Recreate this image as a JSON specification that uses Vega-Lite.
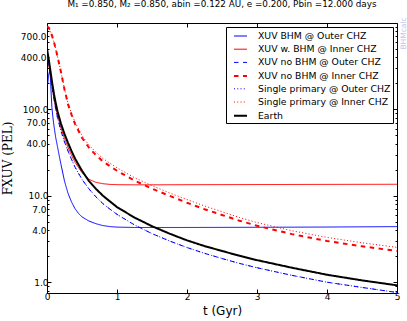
{
  "$schema": "https://vega.github.io/schema/vega-lite/v6.json",
  "width": 350,
  "height": 270,
  "autosize": {"type": "none"},
  "padding": {"left": 47, "top": 23, "right": 10, "bottom": 28},
  "background": "white",
  "config": {
    "view": {"stroke": null},
    "font": "DejaVu Sans",
    "axis": {
      "domainColor": "black",
      "domainWidth": 1,
      "tickColor": "black",
      "labelColor": "black",
      "titleColor": "black",
      "grid": false,
      "labelFont": "DejaVu Sans",
      "labelFontSize": 9,
      "titleFontWeight": "normal",
      "labelOverlap": false,
      "labelFlush": false,
      "labelBound": false
    },
    "legend": {
      "orient": "top-right",
      "offset": 4,
      "padding": 2,
      "fillColor": "white",
      "strokeColor": "black",
      "cornerRadius": 0,
      "symbolType": "stroke",
      "symbolSize": 169,
      "rowPadding": 0.2,
      "labelOffset": 10,
      "symbolOffset": 5,
      "labelFont": "DejaVu Sans",
      "labelFontSize": 9.3,
      "labelColor": "black",
      "labelLimit": 300
    }
  },
  "title": {
    "text": "M₁ =0.850, M₂ =0.850, abin =0.122 AU, e =0.200, Pbin =12.000 days",
    "font": "DejaVu Sans",
    "fontSize": 8.8,
    "fontWeight": "normal",
    "color": "black",
    "anchor": "middle",
    "offset": 8
  },
  "data": {
    "values": [
      {"series": "XUV BHM @ Outer CHZ", "t": 0.01, "f": 195},
      {"series": "XUV BHM @ Outer CHZ", "t": 0.025, "f": 255},
      {"series": "XUV BHM @ Outer CHZ", "t": 0.04, "f": 280},
      {"series": "XUV BHM @ Outer CHZ", "t": 0.05, "f": 230},
      {"series": "XUV BHM @ Outer CHZ", "t": 0.06, "f": 150},
      {"series": "XUV BHM @ Outer CHZ", "t": 0.07, "f": 105},
      {"series": "XUV BHM @ Outer CHZ", "t": 0.085, "f": 80},
      {"series": "XUV BHM @ Outer CHZ", "t": 0.1, "f": 64},
      {"series": "XUV BHM @ Outer CHZ", "t": 0.125, "f": 47},
      {"series": "XUV BHM @ Outer CHZ", "t": 0.15, "f": 37},
      {"series": "XUV BHM @ Outer CHZ", "t": 0.175, "f": 29},
      {"series": "XUV BHM @ Outer CHZ", "t": 0.2, "f": 23},
      {"series": "XUV BHM @ Outer CHZ", "t": 0.25, "f": 14.8},
      {"series": "XUV BHM @ Outer CHZ", "t": 0.3, "f": 10.7},
      {"series": "XUV BHM @ Outer CHZ", "t": 0.35, "f": 8.5},
      {"series": "XUV BHM @ Outer CHZ", "t": 0.4, "f": 7.1},
      {"series": "XUV BHM @ Outer CHZ", "t": 0.45, "f": 6.25},
      {"series": "XUV BHM @ Outer CHZ", "t": 0.5, "f": 5.7},
      {"series": "XUV BHM @ Outer CHZ", "t": 0.6, "f": 5.1},
      {"series": "XUV BHM @ Outer CHZ", "t": 0.7, "f": 4.75},
      {"series": "XUV BHM @ Outer CHZ", "t": 0.8, "f": 4.52},
      {"series": "XUV BHM @ Outer CHZ", "t": 0.9, "f": 4.4},
      {"series": "XUV BHM @ Outer CHZ", "t": 1.0, "f": 4.34},
      {"series": "XUV BHM @ Outer CHZ", "t": 1.25, "f": 4.3},
      {"series": "XUV BHM @ Outer CHZ", "t": 1.5, "f": 4.3},
      {"series": "XUV BHM @ Outer CHZ", "t": 2.0, "f": 4.3},
      {"series": "XUV BHM @ Outer CHZ", "t": 3.0, "f": 4.32},
      {"series": "XUV BHM @ Outer CHZ", "t": 4.0, "f": 4.35},
      {"series": "XUV BHM @ Outer CHZ", "t": 5.0, "f": 4.4},

      {"series": "XUV w. BHM @ Inner CHZ", "t": 0, "f": 430},
      {"series": "XUV w. BHM @ Inner CHZ", "t": 0.025, "f": 330},
      {"series": "XUV w. BHM @ Inner CHZ", "t": 0.05, "f": 245},
      {"series": "XUV w. BHM @ Inner CHZ", "t": 0.075, "f": 180},
      {"series": "XUV w. BHM @ Inner CHZ", "t": 0.1, "f": 135},
      {"series": "XUV w. BHM @ Inner CHZ", "t": 0.125, "f": 106},
      {"series": "XUV w. BHM @ Inner CHZ", "t": 0.15, "f": 86},
      {"series": "XUV w. BHM @ Inner CHZ", "t": 0.2, "f": 61},
      {"series": "XUV w. BHM @ Inner CHZ", "t": 0.25, "f": 46},
      {"series": "XUV w. BHM @ Inner CHZ", "t": 0.3, "f": 36.5},
      {"series": "XUV w. BHM @ Inner CHZ", "t": 0.35, "f": 29.5},
      {"series": "XUV w. BHM @ Inner CHZ", "t": 0.4, "f": 24.5},
      {"series": "XUV w. BHM @ Inner CHZ", "t": 0.5, "f": 18.5},
      {"series": "XUV w. BHM @ Inner CHZ", "t": 0.6, "f": 15.5},
      {"series": "XUV w. BHM @ Inner CHZ", "t": 0.7, "f": 14.3},
      {"series": "XUV w. BHM @ Inner CHZ", "t": 0.8, "f": 13.8},
      {"series": "XUV w. BHM @ Inner CHZ", "t": 0.9, "f": 13.55},
      {"series": "XUV w. BHM @ Inner CHZ", "t": 1.0, "f": 13.45},
      {"series": "XUV w. BHM @ Inner CHZ", "t": 1.25, "f": 13.4},
      {"series": "XUV w. BHM @ Inner CHZ", "t": 1.5, "f": 13.4},
      {"series": "XUV w. BHM @ Inner CHZ", "t": 2.0, "f": 13.45},
      {"series": "XUV w. BHM @ Inner CHZ", "t": 3.0, "f": 13.5},
      {"series": "XUV w. BHM @ Inner CHZ", "t": 4.0, "f": 13.55},
      {"series": "XUV w. BHM @ Inner CHZ", "t": 5.0, "f": 13.6},

      {"series": "XUV no BHM @ Outer CHZ", "t": 0, "f": 460},
      {"series": "XUV no BHM @ Outer CHZ", "t": 0.025, "f": 345},
      {"series": "XUV no BHM @ Outer CHZ", "t": 0.05, "f": 245},
      {"series": "XUV no BHM @ Outer CHZ", "t": 0.075, "f": 175},
      {"series": "XUV no BHM @ Outer CHZ", "t": 0.1, "f": 130},
      {"series": "XUV no BHM @ Outer CHZ", "t": 0.125, "f": 100},
      {"series": "XUV no BHM @ Outer CHZ", "t": 0.15, "f": 80},
      {"series": "XUV no BHM @ Outer CHZ", "t": 0.2, "f": 56},
      {"series": "XUV no BHM @ Outer CHZ", "t": 0.25, "f": 42},
      {"series": "XUV no BHM @ Outer CHZ", "t": 0.3, "f": 33},
      {"series": "XUV no BHM @ Outer CHZ", "t": 0.35, "f": 26.5},
      {"series": "XUV no BHM @ Outer CHZ", "t": 0.4, "f": 21.5},
      {"series": "XUV no BHM @ Outer CHZ", "t": 0.5, "f": 15.5},
      {"series": "XUV no BHM @ Outer CHZ", "t": 0.6, "f": 12},
      {"series": "XUV no BHM @ Outer CHZ", "t": 0.7, "f": 9.7},
      {"series": "XUV no BHM @ Outer CHZ", "t": 0.8, "f": 8.1},
      {"series": "XUV no BHM @ Outer CHZ", "t": 0.9, "f": 7.0},
      {"series": "XUV no BHM @ Outer CHZ", "t": 1.0, "f": 6.1},
      {"series": "XUV no BHM @ Outer CHZ", "t": 1.25, "f": 4.6},
      {"series": "XUV no BHM @ Outer CHZ", "t": 1.5, "f": 3.65},
      {"series": "XUV no BHM @ Outer CHZ", "t": 1.75, "f": 3.0},
      {"series": "XUV no BHM @ Outer CHZ", "t": 2.0, "f": 2.52},
      {"series": "XUV no BHM @ Outer CHZ", "t": 2.25, "f": 2.16},
      {"series": "XUV no BHM @ Outer CHZ", "t": 2.5, "f": 1.88},
      {"series": "XUV no BHM @ Outer CHZ", "t": 2.75, "f": 1.65},
      {"series": "XUV no BHM @ Outer CHZ", "t": 3.0, "f": 1.47},
      {"series": "XUV no BHM @ Outer CHZ", "t": 3.5, "f": 1.2},
      {"series": "XUV no BHM @ Outer CHZ", "t": 4.0, "f": 1.0},
      {"series": "XUV no BHM @ Outer CHZ", "t": 4.5, "f": 0.87},
      {"series": "XUV no BHM @ Outer CHZ", "t": 5.0, "f": 0.76},

      {"series": "XUV no BHM @ Inner CHZ", "t": 0, "f": 920},
      {"series": "XUV no BHM @ Inner CHZ", "t": 0.025, "f": 880},
      {"series": "XUV no BHM @ Inner CHZ", "t": 0.05, "f": 800},
      {"series": "XUV no BHM @ Inner CHZ", "t": 0.075, "f": 700},
      {"series": "XUV no BHM @ Inner CHZ", "t": 0.1, "f": 600},
      {"series": "XUV no BHM @ Inner CHZ", "t": 0.125, "f": 500},
      {"series": "XUV no BHM @ Inner CHZ", "t": 0.15, "f": 410},
      {"series": "XUV no BHM @ Inner CHZ", "t": 0.2, "f": 270},
      {"series": "XUV no BHM @ Inner CHZ", "t": 0.25, "f": 170},
      {"series": "XUV no BHM @ Inner CHZ", "t": 0.3, "f": 115},
      {"series": "XUV no BHM @ Inner CHZ", "t": 0.35, "f": 87},
      {"series": "XUV no BHM @ Inner CHZ", "t": 0.4, "f": 68},
      {"series": "XUV no BHM @ Inner CHZ", "t": 0.5, "f": 47},
      {"series": "XUV no BHM @ Inner CHZ", "t": 0.6, "f": 36},
      {"series": "XUV no BHM @ Inner CHZ", "t": 0.7, "f": 29.5},
      {"series": "XUV no BHM @ Inner CHZ", "t": 0.8, "f": 25},
      {"series": "XUV no BHM @ Inner CHZ", "t": 0.9, "f": 22},
      {"series": "XUV no BHM @ Inner CHZ", "t": 1.0, "f": 19.5},
      {"series": "XUV no BHM @ Inner CHZ", "t": 1.25, "f": 15},
      {"series": "XUV no BHM @ Inner CHZ", "t": 1.5, "f": 12.1},
      {"series": "XUV no BHM @ Inner CHZ", "t": 1.75, "f": 10},
      {"series": "XUV no BHM @ Inner CHZ", "t": 2.0, "f": 8.3},
      {"series": "XUV no BHM @ Inner CHZ", "t": 2.25, "f": 7.0},
      {"series": "XUV no BHM @ Inner CHZ", "t": 2.5, "f": 6.0},
      {"series": "XUV no BHM @ Inner CHZ", "t": 2.75, "f": 5.15},
      {"series": "XUV no BHM @ Inner CHZ", "t": 3.0, "f": 4.5},
      {"series": "XUV no BHM @ Inner CHZ", "t": 3.5, "f": 3.6},
      {"series": "XUV no BHM @ Inner CHZ", "t": 4.0, "f": 3.0},
      {"series": "XUV no BHM @ Inner CHZ", "t": 4.5, "f": 2.6},
      {"series": "XUV no BHM @ Inner CHZ", "t": 5.0, "f": 2.3},

      {"series": "Single primary @ Outer CHZ", "t": 0, "f": 460},
      {"series": "Single primary @ Outer CHZ", "t": 0.025, "f": 345},
      {"series": "Single primary @ Outer CHZ", "t": 0.05, "f": 245},
      {"series": "Single primary @ Outer CHZ", "t": 0.075, "f": 175},
      {"series": "Single primary @ Outer CHZ", "t": 0.1, "f": 130},
      {"series": "Single primary @ Outer CHZ", "t": 0.125, "f": 100},
      {"series": "Single primary @ Outer CHZ", "t": 0.15, "f": 80},
      {"series": "Single primary @ Outer CHZ", "t": 0.2, "f": 56},
      {"series": "Single primary @ Outer CHZ", "t": 0.25, "f": 42},
      {"series": "Single primary @ Outer CHZ", "t": 0.3, "f": 33},
      {"series": "Single primary @ Outer CHZ", "t": 0.35, "f": 26.5},
      {"series": "Single primary @ Outer CHZ", "t": 0.4, "f": 21.5},
      {"series": "Single primary @ Outer CHZ", "t": 0.5, "f": 15.5},
      {"series": "Single primary @ Outer CHZ", "t": 0.6, "f": 12},
      {"series": "Single primary @ Outer CHZ", "t": 0.7, "f": 9.7},
      {"series": "Single primary @ Outer CHZ", "t": 0.8, "f": 8.1},
      {"series": "Single primary @ Outer CHZ", "t": 0.9, "f": 7.0},
      {"series": "Single primary @ Outer CHZ", "t": 1.0, "f": 6.1},
      {"series": "Single primary @ Outer CHZ", "t": 1.25, "f": 4.6},
      {"series": "Single primary @ Outer CHZ", "t": 1.5, "f": 3.65},
      {"series": "Single primary @ Outer CHZ", "t": 1.75, "f": 3.0},
      {"series": "Single primary @ Outer CHZ", "t": 2.0, "f": 2.52},
      {"series": "Single primary @ Outer CHZ", "t": 2.25, "f": 2.16},
      {"series": "Single primary @ Outer CHZ", "t": 2.5, "f": 1.88},
      {"series": "Single primary @ Outer CHZ", "t": 2.75, "f": 1.65},
      {"series": "Single primary @ Outer CHZ", "t": 3.0, "f": 1.47},
      {"series": "Single primary @ Outer CHZ", "t": 3.5, "f": 1.2},
      {"series": "Single primary @ Outer CHZ", "t": 4.0, "f": 1.0},
      {"series": "Single primary @ Outer CHZ", "t": 4.5, "f": 0.87},
      {"series": "Single primary @ Outer CHZ", "t": 5.0, "f": 0.76},

      {"series": "Single primary @ Inner CHZ", "t": 0, "f": 920},
      {"series": "Single primary @ Inner CHZ", "t": 0.025, "f": 880},
      {"series": "Single primary @ Inner CHZ", "t": 0.05, "f": 800},
      {"series": "Single primary @ Inner CHZ", "t": 0.075, "f": 700},
      {"series": "Single primary @ Inner CHZ", "t": 0.1, "f": 600},
      {"series": "Single primary @ Inner CHZ", "t": 0.125, "f": 500},
      {"series": "Single primary @ Inner CHZ", "t": 0.15, "f": 410},
      {"series": "Single primary @ Inner CHZ", "t": 0.2, "f": 272},
      {"series": "Single primary @ Inner CHZ", "t": 0.25, "f": 173},
      {"series": "Single primary @ Inner CHZ", "t": 0.3, "f": 118},
      {"series": "Single primary @ Inner CHZ", "t": 0.35, "f": 90},
      {"series": "Single primary @ Inner CHZ", "t": 0.4, "f": 71},
      {"series": "Single primary @ Inner CHZ", "t": 0.5, "f": 50},
      {"series": "Single primary @ Inner CHZ", "t": 0.6, "f": 38.5},
      {"series": "Single primary @ Inner CHZ", "t": 0.7, "f": 31.9},
      {"series": "Single primary @ Inner CHZ", "t": 0.8, "f": 27},
      {"series": "Single primary @ Inner CHZ", "t": 0.9, "f": 23.8},
      {"series": "Single primary @ Inner CHZ", "t": 1.0, "f": 21.1},
      {"series": "Single primary @ Inner CHZ", "t": 1.25, "f": 16.2},
      {"series": "Single primary @ Inner CHZ", "t": 1.5, "f": 13.1},
      {"series": "Single primary @ Inner CHZ", "t": 1.75, "f": 10.8},
      {"series": "Single primary @ Inner CHZ", "t": 2.0, "f": 9.05},
      {"series": "Single primary @ Inner CHZ", "t": 2.25, "f": 7.63},
      {"series": "Single primary @ Inner CHZ", "t": 2.5, "f": 6.54},
      {"series": "Single primary @ Inner CHZ", "t": 2.75, "f": 5.61},
      {"series": "Single primary @ Inner CHZ", "t": 3.0, "f": 4.9},
      {"series": "Single primary @ Inner CHZ", "t": 3.5, "f": 3.94},
      {"series": "Single primary @ Inner CHZ", "t": 4.0, "f": 3.3},
      {"series": "Single primary @ Inner CHZ", "t": 4.5, "f": 2.86},
      {"series": "Single primary @ Inner CHZ", "t": 5.0, "f": 2.53},

      {"series": "Earth", "t": 0, "f": 500},
      {"series": "Earth", "t": 0.025, "f": 380},
      {"series": "Earth", "t": 0.05, "f": 275},
      {"series": "Earth", "t": 0.075, "f": 200},
      {"series": "Earth", "t": 0.1, "f": 150},
      {"series": "Earth", "t": 0.125, "f": 118},
      {"series": "Earth", "t": 0.15, "f": 95},
      {"series": "Earth", "t": 0.2, "f": 68},
      {"series": "Earth", "t": 0.25, "f": 52},
      {"series": "Earth", "t": 0.3, "f": 41},
      {"series": "Earth", "t": 0.35, "f": 33},
      {"series": "Earth", "t": 0.4, "f": 27},
      {"series": "Earth", "t": 0.5, "f": 19.5},
      {"series": "Earth", "t": 0.6, "f": 14.8},
      {"series": "Earth", "t": 0.7, "f": 12},
      {"series": "Earth", "t": 0.8, "f": 10},
      {"series": "Earth", "t": 0.9, "f": 8.6},
      {"series": "Earth", "t": 1.0, "f": 7.4},
      {"series": "Earth", "t": 1.25, "f": 5.6},
      {"series": "Earth", "t": 1.5, "f": 4.45},
      {"series": "Earth", "t": 1.75, "f": 3.65},
      {"series": "Earth", "t": 2.0, "f": 3.05},
      {"series": "Earth", "t": 2.25, "f": 2.62},
      {"series": "Earth", "t": 2.5, "f": 2.3},
      {"series": "Earth", "t": 2.75, "f": 2.02},
      {"series": "Earth", "t": 3.0, "f": 1.8},
      {"series": "Earth", "t": 3.5, "f": 1.47},
      {"series": "Earth", "t": 4.0, "f": 1.22},
      {"series": "Earth", "t": 4.5, "f": 1.05},
      {"series": "Earth", "t": 5.0, "f": 0.92}
    ]
  },
  "layer": [
    {
      "mark": {"type": "line", "clip": true},
      "encoding": {
        "x": {
          "field": "t",
          "type": "quantitative",
          "scale": {"domain": [0, 5], "nice": false, "zero": false},
          "axis": {
            "values": [0, 1, 2, 3, 4, 5],
            "format": "d",
            "tickSize": -4,
            "labelPadding": 3,
            "title": "t (Gyr)",
            "titleFont": "DejaVu Sans",
            "titleFontSize": 12,
            "titlePadding": 4
          }
        },
        "y": {
          "field": "f",
          "type": "quantitative",
          "scale": {"type": "log", "domain": [0.75, 1000], "nice": false},
          "axis": {
            "values": [0.8, 0.9, 1, 2, 3, 4, 5, 6, 7, 8, 9, 10, 20, 30, 40, 50, 60, 70, 80, 90, 100, 200, 300, 400, 500, 600, 700, 800, 900],
            "labelExpr": "indexof([1,4,7,10,40,70,100,400,700], datum.value) >= 0 ? format(datum.value, '.1f') : ''",
            "tickSize": {"condition": {"test": "datum.value == 1 || datum.value == 10 || datum.value == 100", "value": -4}, "value": -2},
            "labelPadding": 3,
            "title": "FXUV (PEL)",
            "titleFont": "DejaVu Serif",
            "titleFontSize": 12,
            "titlePadding": 6
          }
        },
        "color": {
          "field": "series",
          "type": "nominal",
          "scale": {
            "domain": ["XUV BHM @ Outer CHZ", "XUV w. BHM @ Inner CHZ", "XUV no BHM @ Outer CHZ", "XUV no BHM @ Inner CHZ", "Single primary @ Outer CHZ", "Single primary @ Inner CHZ", "Earth"],
            "range": ["#0000ff", "#ff0000", "#0000ff", "#ff0000", "#0000ff", "#ff0000", "#000000"]
          },
          "legend": {"title": null}
        },
        "strokeDash": {
          "field": "series",
          "type": "nominal",
          "scale": {
            "domain": ["XUV BHM @ Outer CHZ", "XUV w. BHM @ Inner CHZ", "XUV no BHM @ Outer CHZ", "XUV no BHM @ Inner CHZ", "Single primary @ Outer CHZ", "Single primary @ Inner CHZ", "Earth"],
            "range": [[1, 0], [1, 0], [4.5, 4.5], [4.5, 4.5], [1, 2.25], [1, 2.25], [1, 0]]
          },
          "legend": {"title": null}
        },
        "strokeWidth": {
          "field": "series",
          "type": "nominal",
          "scale": {
            "type": "ordinal",
            "domain": ["XUV BHM @ Outer CHZ", "XUV w. BHM @ Inner CHZ", "XUV no BHM @ Outer CHZ", "XUV no BHM @ Inner CHZ", "Single primary @ Outer CHZ", "Single primary @ Inner CHZ", "Earth"],
            "range": [1, 1, 1, 2, 1, 1, 2]
          },
          "legend": {"title": null}
        }
      }
    },
    {
      "mark": {"type": "point", "opacity": 0},
      "encoding": {
        "x": {
          "field": "t",
          "type": "quantitative",
          "scale": {"domain": [0, 5], "nice": false, "zero": false},
          "axis": {"orient": "top", "values": [0, 1, 2, 3, 4, 5], "labels": false, "tickSize": -4, "title": null}
        },
        "y": {
          "field": "f",
          "type": "quantitative",
          "scale": {"type": "log", "domain": [0.75, 1000], "nice": false},
          "axis": {
            "orient": "right",
            "values": [0.8, 0.9, 1, 2, 3, 4, 5, 6, 7, 8, 9, 10, 20, 30, 40, 50, 60, 70, 80, 90, 100, 200, 300, 400, 500, 600, 700, 800, 900],
            "labels": false,
            "tickSize": {"condition": {"test": "datum.value == 1 || datum.value == 10 || datum.value == 100", "value": -4}, "value": -2},
            "title": "BHMcalc",
            "titleColor": "#c4c4f2",
            "titleFontSize": 7.5,
            "titleAngle": 270,
            "titleAlign": "center",
            "titleBaseline": "middle",
            "titleX": 6,
            "titleY": 10
          }
        }
      }
    }
  ],
  "resolve": {"axis": {"x": "independent", "y": "independent"}}
}
